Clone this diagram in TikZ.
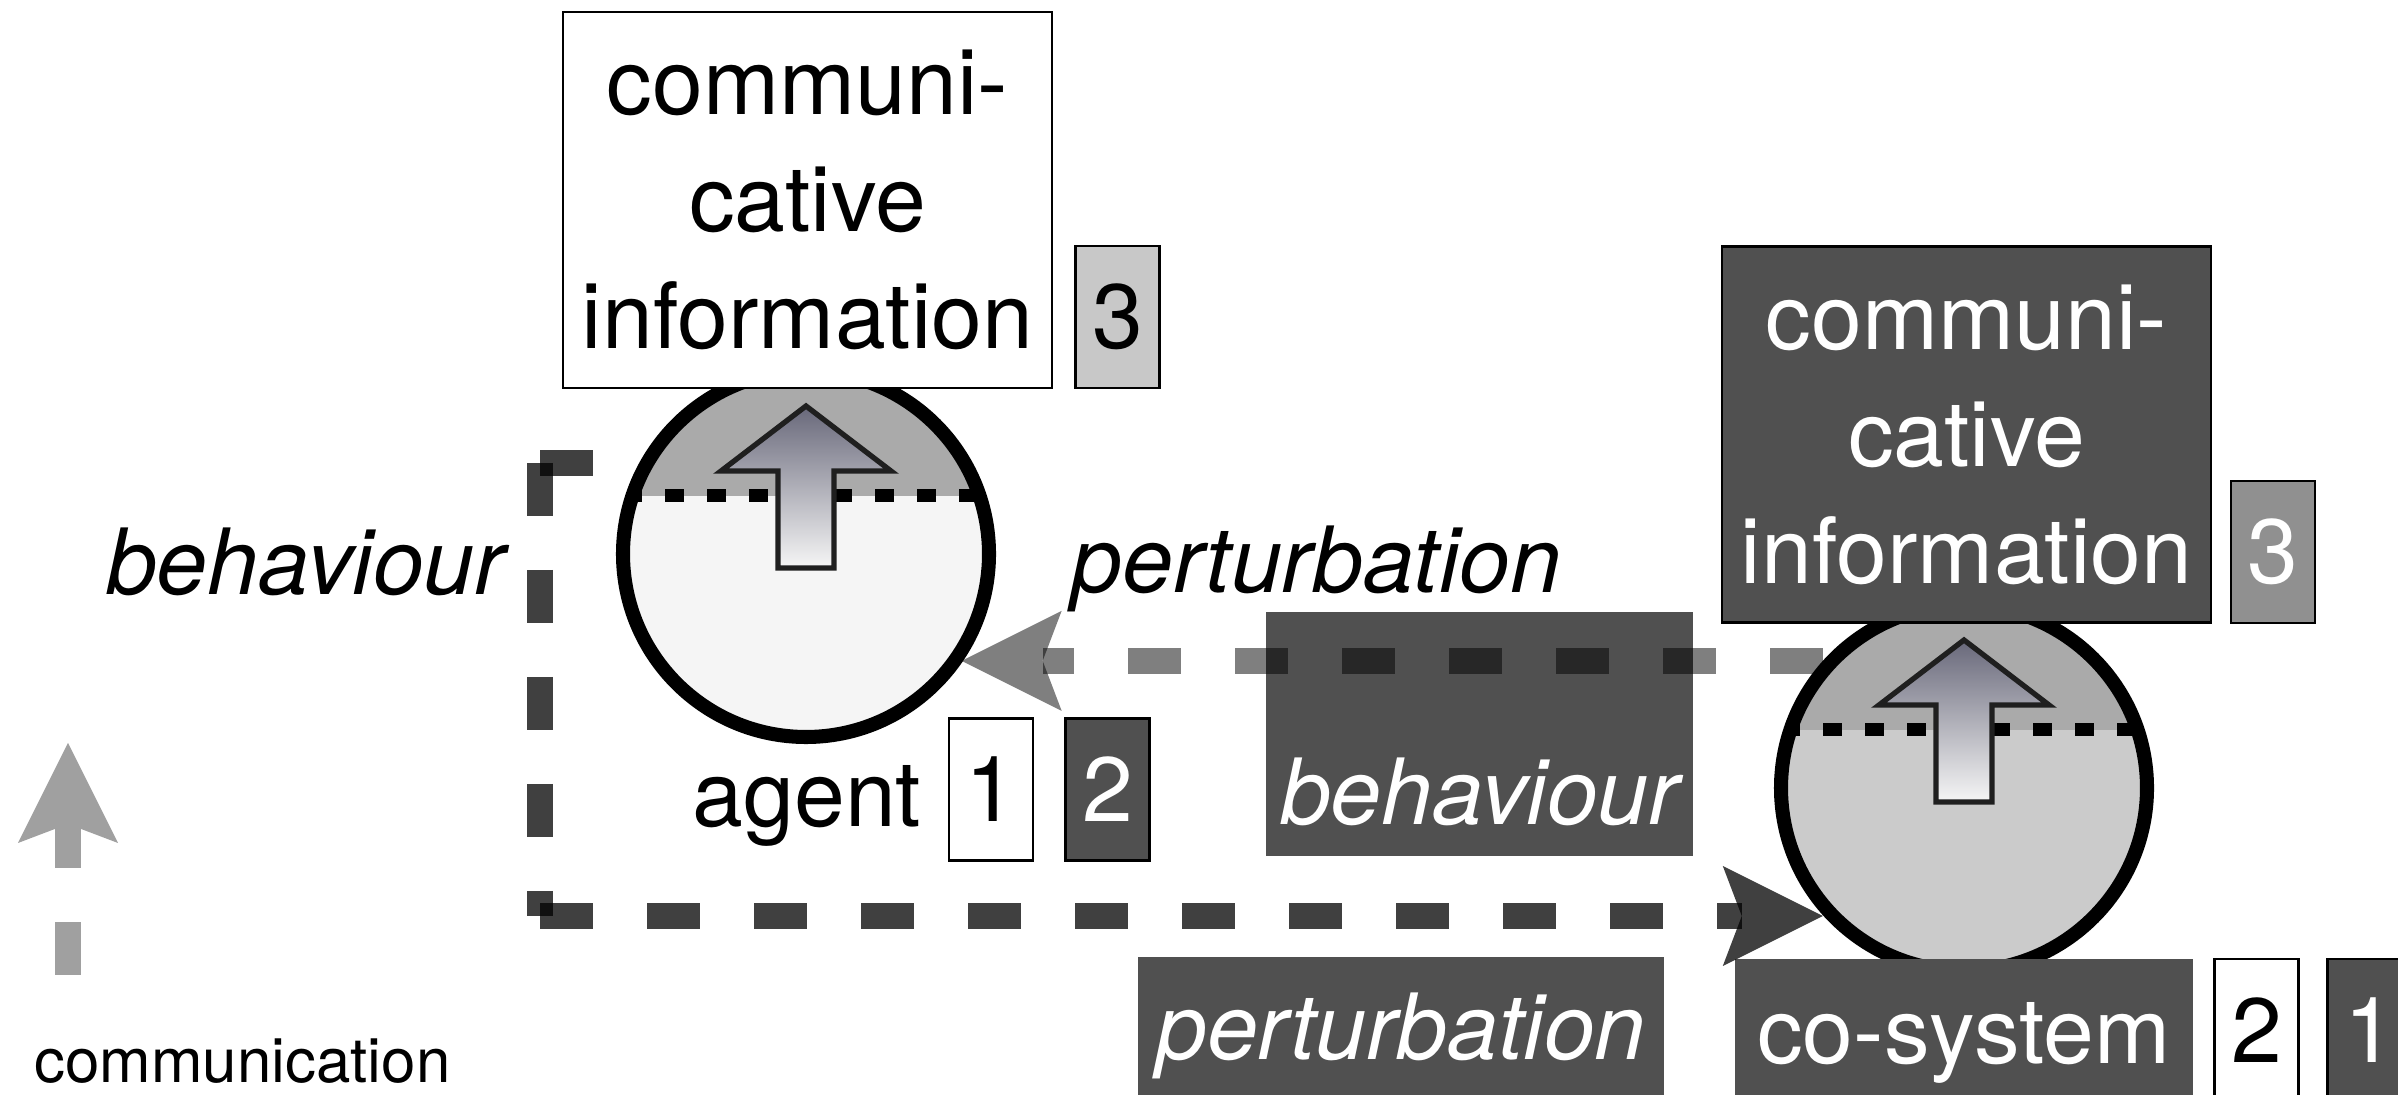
\documentclass[tikz,border=0pt]{standalone}
\usepackage{fontspec}
\setmainfont{TeX Gyre Heros}
\usepackage{tikz}
\usetikzlibrary{arrows.meta}
\definecolor{capgray}{RGB}{170,170,170}
\definecolor{agentlow}{RGB}{245,245,245}
\definecolor{colow}{RGB}{203,203,203}
\definecolor{boxdark}{RGB}{80,80,80}
\definecolor{numlight}{RGB}{200,200,200}
\definecolor{nummid}{RGB}{144,144,144}
\definecolor{leggray}{RGB}{160,160,160}
\definecolor{arrowtop}{RGB}{104,104,122}
\definecolor{arrowbot}{RGB}{246,246,246}
\newcommand{\diagfont}{\fontsize{26pt}{33.3pt}\selectfont}
\newcommand{\legendfont}{\fontsize{17.6pt}{21pt}\selectfont}
\tikzstyle{infobox} = [rectangle, draw=black, line width=0.8pt, minimum width=4.89cm, minimum height=3.76cm,
,align=center, inner sep=0, font=\diagfont]
\tikzstyle{numbox} = [rectangle, draw=black, line width=0.8pt, minimum width=0.84cm, minimum height=1.42cm,
,inner sep=0, font=\diagfont]
\tikzstyle{tagbox} = [rectangle, fill=boxdark, text=white, inner sep=0, align=center, font=\diagfont\itshape]
\tikzstyle{unit} = [circle, draw=black, line width=4pt, minimum size=3.66cm, inner sep=0]
\tikzstyle{dotrule} = [black, line width=0.13cm, dash pattern=on 0.19cm off 0.23cm]
\tikzstyle{split} = [path picture={
    \fill[capgray] ([yshift=0.58cm]path picture bounding box.west) rectangle (path picture bounding box.north east);
    \draw[dotrule] ([yshift=0.58cm]path picture bounding box.west) -- ([yshift=0.58cm]path picture bounding box.east);}]
\tikzstyle{infoarrow} = [draw=black!88, line width=1.5pt, top color=arrowtop, bottom color=arrowbot]
\tikzstyle{flow} = [line width=0.26cm, dash pattern=on 0.53cm off 0.54cm]

\begin{document}
\begin{tikzpicture}[>={Stealth[length=1cm,width=1cm,inset=0.19cm,line width=0pt]}]
                        \useasboundingbox (0,0) rectangle (23.98,-10.95);
                        \node[tagbox, minimum width=4.27cm, text height=2.13cm, text depth=0.31cm, anchor=base]
                            (cobeh) at (14.795,-8.25) {behaviour};
                        \node[unit, split, fill=agentlow] (agent) at (8.06,-5.54) {};
                        \node[unit, split, fill=colow] (co) at (19.64,-7.88) {};
                        \shade[infoarrow, shift={(agent.center)}] (0,1.48) -- (0.85,0.83) -- (0.28,0.83) -- (0.28,-0.14)
                            -- (-0.28,-0.14) -- (-0.28,0.83) -- (-0.85,0.83) -- cycle;
                        \shade[infoarrow, shift={(co.center)}] (0,1.48) -- (0.85,0.83) -- (0.28,0.83) -- (0.28,-0.14)
                            -- (-0.28,-0.14) -- (-0.28,0.83) -- (-0.85,0.83) -- cycle;
                        \draw[flow, opacity=0.5, ->] (co.138) -- (co.138 -| agent.-35);
                        \node[infobox, fill=white] (agentinfo) at (8.075,-2.0) {communi-\\cative\\information};
                        \node[numbox, fill=numlight] (agentthree) at (11.175,-3.17) {3};
                        \node[infobox, fill=boxdark, text=white] (coinfo) at (19.665,-4.345) {communi-\\cative\\information};
                        \node[numbox, fill=nummid, text=white] (cothree) at (22.73,-5.52) {3};
                        \node[font=\diagfont, anchor=base, inner sep=0] (agentname) at (8.07,-8.27) {agent};
                        \node[numbox, fill=white] (agentone) at (9.91,-7.895) {1};
                        \node[numbox, fill=boxdark, text=white] (agenttwo) at (11.075,-7.895) {2};
                        \node[font=\diagfont\itshape, anchor=base, inner sep=0] (agentbeh) at (3.055,-5.95) {behaviour};
                        \node[font=\diagfont\itshape, anchor=base, inner sep=0] (agentpert) at (13.165,-5.93) {perturbation};
                        \node[tagbox, minimum width=5.26cm, text height=1.03cm, text depth=0.6cm, anchor=base]
                            (copert) at (14.01,-10.60) {perturbation};
                        \node[tagbox, font=\diagfont, minimum width=4.58cm, text height=1.04cm, text depth=0.6cm, anchor=base]
                            (coname) at (19.64,-10.63) {co-system};
                        \node[numbox, fill=white] (cotwo) at (22.565,-10.30) {2};
                        \node[numbox, fill=boxdark, text=white] (coone) at (23.695,-10.30) {1};
                        \coordinate (bcorner) at (5.40,-4.63);
                        \coordinate (bstart) at (5.94,-4.63);
                        \coordinate (pcorner) at (5.40,-9.16);
                        \draw[flow, opacity=0.75] (bcorner) -- (bstart);
                        \draw[flow, opacity=0.75] (bcorner) -- (pcorner);
                        \draw[flow, opacity=0.75, ->] (pcorner) -- (pcorner -| co.-138);
                        \coordinate (legfoot) at (0.68,-9.75);
                        \coordinate (leghead) at (0.68,-7.43);
                        \draw[flow, draw=leggray, ->] (legfoot) -- (leghead);
                        \node[font=\legendfont, anchor=base, inner sep=0] (legend) at (2.425,-10.82) {communication};
                    \end{tikzpicture}
\end{document}
